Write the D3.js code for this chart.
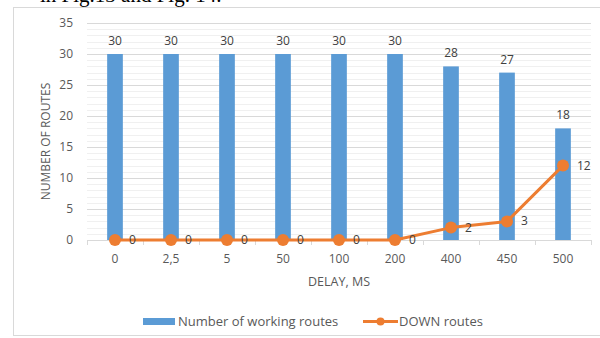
<!DOCTYPE html>
<html>
<head>
<meta charset="utf-8">
<script src="https://cdn.jsdelivr.net/npm/d3@7"></script>
<style>
  html, body { margin: 0; padding: 0; background: #fff; }
  svg { display: block; }
  text { font-family: "Open Sans", "Liberation Sans", sans-serif; }
</style>
</head>
<body>
<svg id="chart" width="600" height="338"></svg>
<script>
// Delay categories (ms) and route counts
const delays = ["0", "2,5", "5", "50", "100", "200", "400", "450", "500"];
const workingRoutes = [30, 30, 30, 30, 30, 30, 28, 27, 18];
const downRoutes = [0, 0, 0, 0, 0, 0, 2, 3, 12];
const yTicks = [0, 5, 10, 15, 20, 25, 30, 35];
const seriesNames = ["Number of working routes", "DOWN routes"];

const blue = "#5B9BD5", orange = "#ED7D31", textGray = "#595959", gridGray = "#d9d9d9";

const svg = d3.select("#chart");

// Running text of the page above the figure, cut off at the top edge
svg.append("text")
  .attr("x", 40).attr("y", 2)
  .style("font-family", "'Liberation Serif', serif")
  .style("font-size", "21px")
  .attr("fill", "#000")
  .text("in Fig.13 and Fig. 14.");

// Chart frame
svg.append("rect")
  .attr("x", 13.5).attr("y", 7.5)
  .attr("width", 620).attr("height", 328)
  .attr("fill", "#fff").attr("stroke", gridGray);

const plot = { left: 87, right: 591, top: 23, bottom: 240 };

const x = d3.scaleBand().domain(delays).range([plot.left, plot.right]).paddingInner(0.72).paddingOuter(0.36);
const xc = d => x(d) + x.bandwidth() / 2;
const y = d3.scaleLinear().domain([0, 35]).range([plot.bottom, plot.top]);

// Minor gridlines (every unit)
svg.append("g").selectAll("line")
  .data(d3.range(1, 35).filter(v => v % 5 !== 0))
  .join("line")
  .attr("x1", plot.left).attr("x2", plot.right)
  .attr("y1", d => Math.round(y(d)) + 0.5).attr("y2", d => Math.round(y(d)) + 0.5)
  .attr("stroke", "#f0f0f0");

// Major gridlines
svg.append("g").selectAll("line")
  .data(yTicks.filter(v => v > 0))
  .join("line")
  .attr("x1", plot.left).attr("x2", plot.right)
  .attr("y1", d => Math.round(y(d)) + 0.5).attr("y2", d => Math.round(y(d)) + 0.5)
  .attr("stroke", gridGray);

// Y axis labels
const yAxis = svg.append("g")
  .attr("transform", `translate(${plot.left - 14},0)`)
  .call(d3.axisLeft(y).tickValues(yTicks).tickSize(0).tickPadding(0));
yAxis.select(".domain").remove();
yAxis.selectAll("text").attr("fill", textGray).style("font-size", "12px")
  .style("font-family", "'Open Sans', sans-serif");

// X axis with category boundary ticks
const xAxisG = svg.append("g").attr("transform", `translate(0,${plot.bottom})`);
xAxisG.append("line")
  .attr("x1", plot.left).attr("x2", plot.right)
  .attr("y1", 0.5).attr("y2", 0.5).attr("stroke", gridGray);
xAxisG.selectAll("line.tick")
  .data(d3.range(0, delays.length + 1))
  .join("line").attr("class", "tick")
  .attr("x1", i => Math.round(plot.left + i * x.step()) + 0.5)
  .attr("x2", i => Math.round(plot.left + i * x.step()) + 0.5)
  .attr("y1", 0).attr("y2", 5).attr("stroke", gridGray);
xAxisG.selectAll("text")
  .data(delays)
  .join("text")
  .attr("x", d => xc(d)).attr("y", 23)
  .attr("text-anchor", "middle")
  .attr("fill", textGray).style("font-size", "12px")
  .text(d => d);

// Bars
svg.append("g").selectAll("rect")
  .data(delays.map((d, i) => ({ d, v: workingRoutes[i] })))
  .join("rect")
  .attr("x", p => x(p.d)).attr("width", x.bandwidth())
  .attr("y", p => y(p.v)).attr("height", p => y(0) - y(p.v))
  .attr("fill", blue);

// Bar value labels
svg.append("g").selectAll("text")
  .data(delays.map((d, i) => ({ d, v: workingRoutes[i] })))
  .join("text")
  .attr("x", p => xc(p.d)).attr("y", p => y(p.v) - 9)
  .attr("text-anchor", "middle")
  .attr("fill", "#404040").style("font-size", "12px")
  .text(p => p.v);

// DOWN routes line
const downPts = delays.map((d, i) => ({ d, v: downRoutes[i] }));
svg.append("path")
  .datum(downPts)
  .attr("fill", "none").attr("stroke", orange).attr("stroke-width", 3)
  .attr("stroke-linejoin", "round")
  .attr("d", d3.line().x(p => xc(p.d)).y(p => y(p.v)));
svg.append("g").selectAll("circle")
  .data(downPts)
  .join("circle")
  .attr("cx", p => xc(p.d)).attr("cy", p => y(p.v)).attr("r", 6)
  .attr("fill", orange);
svg.append("g").selectAll("text")
  .data(downPts)
  .join("text")
  .attr("x", p => xc(p.d) + 14).attr("y", p => y(p.v) + 4)
  .attr("fill", "#404040").style("font-size", "12px")
  .text(p => p.v);

// Axis titles
svg.append("text")
  .attr("transform", `translate(50,${(plot.top + plot.bottom) / 2 + 10}) rotate(-90)`)
  .attr("text-anchor", "middle")
  .attr("fill", textGray).style("font-size", "12px")
  .text("NUMBER OF ROUTES");
svg.append("text")
  .attr("x", (plot.left + plot.right) / 2).attr("y", 286)
  .attr("text-anchor", "middle")
  .attr("fill", textGray).style("font-size", "12.5px")
  .text("DELAY, MS");

// Legend
const lg = svg.append("g");
lg.append("rect").attr("x", 143).attr("y", 318).attr("width", 32).attr("height", 7).attr("fill", blue);
lg.append("text").attr("x", 178).attr("y", 326).attr("fill", textGray).style("font-size", "13px").text(seriesNames[0]);
lg.append("line").attr("x1", 363).attr("x2", 398).attr("y1", 321.5).attr("y2", 321.5)
  .attr("stroke", orange).attr("stroke-width", 3);
lg.append("circle").attr("cx", 380.5).attr("cy", 321.5).attr("r", 4).attr("fill", orange);
lg.append("text").attr("x", 399).attr("y", 326).attr("fill", textGray).style("font-size", "13px").text(seriesNames[1]);
</script>
</body>
</html>
